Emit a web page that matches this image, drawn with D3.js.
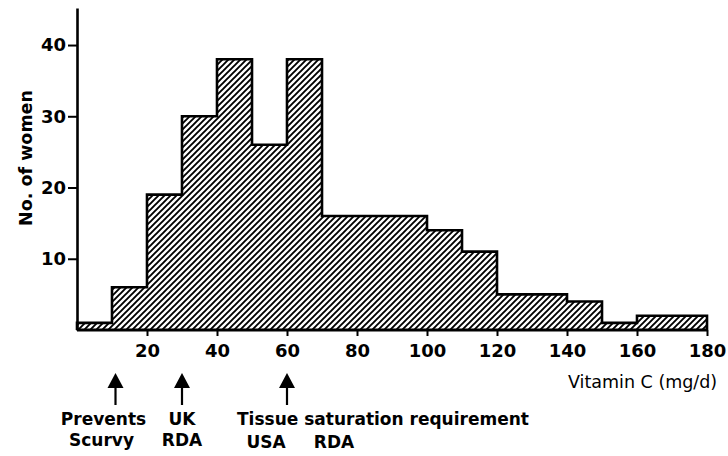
<!DOCTYPE html>
<html>
<head>
<meta charset="utf-8">
<script src="https://cdn.jsdelivr.net/npm/d3@7/dist/d3.min.js"></script>
<style>
  html, body { margin: 0; padding: 0; background: #fff; }
  svg { display: block; }
  text { font-family: "DejaVu Sans", sans-serif; fill: #000; }
</style>
</head>
<body>
<svg id="chart" width="728" height="456"></svg>
<script>
// ---- data ----
const binStarts = [0,10,20,30,40,50,60,70,80,90,100,110,120,130,140,150,160,170];
const binWidth = 10;
const counts    = [1,6,19,30,38,26,38,16,16,16,14,11,5,5,4,1,2,2];
const xTicks = [20,40,60,80,100,120,140,160,180];
const yTicks = [10,20,30,40];
const xTitle = "Vitamin C (mg/d)";
const yTitle = "No. of women";
const markerValues = [11, 30, 60];

// ---- scales ----
const svg = d3.select("#chart");
const x = d3.scaleLinear().domain([0, 180]).range([77, 707]);
const y = d3.scaleLinear().domain([0, 45.2]).range([330, 8]);

// hatch pattern
const defs = svg.append("defs");
const pat = defs.append("pattern")
  .attr("id", "hatch").attr("patternUnits", "userSpaceOnUse")
  .attr("width", 6).attr("height", 6);
pat.append("rect").attr("width", 6).attr("height", 6).attr("fill", "#fff");
pat.append("path").attr("d", "M-1,1 l2,-2 M0,6 l6,-6 M5,7 l2,-2")
  .attr("stroke", "#000").attr("stroke-width", 1.9);

// step points
const pts = [];
binStarts.forEach((b, i) => {
  pts.push([x(b), y(counts[i])]);
  pts.push([x(b + binWidth), y(counts[i])]);
});

const area = d3.area().x(d => d[0]).y0(y(0)).y1(d => d[1]);
svg.append("path").attr("d", area(pts)).attr("fill", "url(#hatch)");

const outline = [[x(0), y(0)], ...pts, [x(180), y(0)]];
svg.append("path").attr("d", d3.line()(outline))
  .attr("fill", "none").attr("stroke", "#000").attr("stroke-width", 2.6)
  .attr("stroke-linejoin", "miter");

// axes
const xAxis = d3.axisBottom(x).tickValues(xTicks).tickSize(6).tickPadding(8).tickSizeOuter(0);
const gx = svg.append("g").attr("transform", `translate(0,${y(0)})`).call(xAxis);
gx.select(".domain").attr("stroke-width", 2.8).attr("d", `M${x(0)},0H${x(180)}`);
gx.selectAll(".tick line").attr("stroke-width", 2);
gx.selectAll(".tick text").attr("font-size", 18).attr("font-weight", "bold")
  .attr("font-family", "DejaVu Sans").attr("dy", "0.72em");

const yAxis = d3.axisLeft(y).tickValues(yTicks).tickSize(9).tickPadding(2).tickSizeOuter(0);
const gy = svg.append("g").attr("transform", `translate(${x(0)},0)`).call(yAxis);
gy.select(".domain").attr("stroke-width", 2.6);
gy.selectAll(".tick line").attr("stroke-width", 2);
gy.selectAll(".tick text").attr("font-size", 18).attr("font-weight", "bold")
  .attr("font-family", "DejaVu Sans");

// titles
svg.append("text").attr("x", 568).attr("y", 388).attr("font-size", 17.5).text(xTitle);
svg.append("text").attr("transform", "translate(32,158) rotate(-90)")
  .attr("text-anchor", "middle").attr("font-size", 17.5).attr("font-weight", "bold").text(yTitle);

// arrows
markerValues.forEach(v => {
  const cx = x(v);
  svg.append("path").attr("d", `M${cx},373 L${cx + 8},388 L${cx - 8},388 Z`).attr("fill", "#000");
  svg.append("line").attr("x1", cx).attr("x2", cx).attr("y1", 386).attr("y2", 405)
    .attr("stroke", "#000").attr("stroke-width", 2.2);
});

// annotation text
const ann = svg.append("g").attr("font-size", 17).attr("font-weight", "bold");
function t(txt, xx, yy, anchor) {
  ann.append("text").attr("x", xx).attr("y", yy).attr("text-anchor", anchor || "start").text(txt);
}
t("Prevents", x(markerValues[0]) - 12, 425, "middle");
t("Scurvy", x(markerValues[0]) - 14, 446, "middle");
t("UK", x(markerValues[1]), 425, "middle");
t("RDA", x(markerValues[1]), 446, "middle");
t("Tissue saturation requirement", 237, 425);
t("USA", 266, 448, "middle");
t("RDA", 334, 448, "middle");
</script>
</body>
</html>
